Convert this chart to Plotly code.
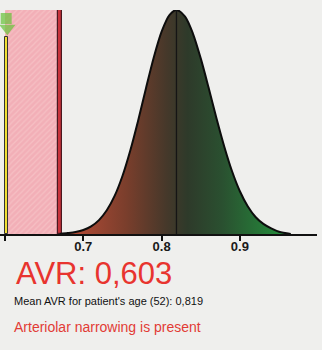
import plotly.graph_objects as go

# ---- data ----
patient_avr = 0.603
patient_age = 52
mean_avr = 0.819
narrowing_threshold = 0.670

curve_x = [0.670, 0.680, 0.690, 0.700, 0.710, 0.720, 0.730, 0.740, 0.750, 0.760, 0.770,
           0.780, 0.790, 0.800, 0.810, 0.819, 0.830, 0.840, 0.850, 0.860, 0.870, 0.880,
           0.890, 0.900, 0.910, 0.920, 0.930, 0.940, 0.950, 0.965]
curve_y = [0.000, 0.004, 0.009, 0.018, 0.034, 0.062, 0.106, 0.170, 0.259, 0.373, 0.506,
           0.650, 0.788, 0.903, 0.977, 1.000, 0.970, 0.895, 0.784, 0.654, 0.518, 0.391,
           0.280, 0.191, 0.124, 0.076, 0.045, 0.025, 0.010, 0.000]

tick_vals = [0.6, 0.7, 0.8, 0.9]
tick_text = ["0.6", "0.7", "0.8", "0.9"]

region_start = 0.600
marker_top = 0.88

fig = go.Figure()

# pink narrowing region
fig.add_trace(go.Bar(
    x=[(region_start + narrowing_threshold) / 2], y=[1.0],
    width=[narrowing_threshold - region_start],
    marker=dict(color="#f2afb7", line=dict(width=0),
                pattern=dict(shape="/", fgcolor="#f8d0d0", size=4, solidity=0.3)),
    hoverinfo="skip", showlegend=False))

# red threshold stripe
fig.add_trace(go.Bar(
    x=[narrowing_threshold], y=[1.0], width=[0.0055],
    marker=dict(color="#c8343c", line=dict(color="#4a1820", width=1.2)),
    hoverinfo="skip", showlegend=False))

# patient yellow bar
fig.add_trace(go.Bar(
    x=[patient_avr - 0.0012], y=[marker_top], width=[0.004],
    marker=dict(color="#f2e034", line=dict(color="#333333", width=1)),
    hoverinfo="skip", showlegend=False))

# distribution curve with gradient fill
fig.add_trace(go.Scatter(
    x=curve_x, y=curve_y, mode="lines",
    line=dict(color="#0d0d0d", width=2, shape="spline", smoothing=0.8),
    fill="tozeroy",
    fillgradient=dict(type="horizontal", start=0.69, stop=0.95,
                      colorscale=[[0.0, "#b04a35"], [0.25, "#7a3e2c"], [0.45, "#45382a"],
                                  [0.55, "#2e3a2a"], [0.72, "#2a5030"], [1.0, "#24883a"]]),
    cliponaxis=False, hoverinfo="skip", showlegend=False))

# mean line
fig.add_trace(go.Scatter(
    x=[mean_avr, mean_avr], y=[0, 1.0], mode="lines",
    line=dict(color="#151515", width=1.3),
    hoverinfo="skip", showlegend=False))

# green arrow marker (body + head)
fig.add_trace(go.Scatter(
    x=[patient_avr - 0.0015, patient_avr], y=[0.962, 0.918], mode="markers",
    marker=dict(symbol=["square", "triangle-down"], size=[11, 14], color="#66c238",
                line=dict(width=0)),
    cliponaxis=False, hoverinfo="skip", showlegend=False))

avr_txt = f"{patient_avr:.3f}".replace(".", ",")
mean_txt = f"{mean_avr:.3f}".replace(".", ",")

fig.add_annotation(x=0.045, y=-0.175, xref="paper", yref="paper", xanchor="left", yanchor="middle",
                   text=f"AVR: {avr_txt}", showarrow=False,
                   font=dict(family="Arial, Liberation Sans", size=31, color="#e8342f"))
fig.add_annotation(x=0.038, y=-0.30, xref="paper", yref="paper", xanchor="left", yanchor="middle",
                   text=f"Mean AVR for patient's age ({patient_age}): {mean_txt}", showarrow=False,
                   font=dict(family="Arial, Liberation Sans", size=11, color="#111111"))
fig.add_annotation(x=0.038, y=-0.415, xref="paper", yref="paper", xanchor="left", yanchor="middle",
                   text="Arteriolar narrowing is present", showarrow=False,
                   font=dict(family="Arial, Liberation Sans", size=14, color="#e23b35"))

fig.update_layout(
    width=322, height=350,
    margin=dict(l=0, r=5, t=10, b=116),
    paper_bgcolor="#efefed", plot_bgcolor="#efefed",
    barmode="overlay", bargap=0,
    xaxis=dict(range=[0.5936, 0.9985], showgrid=False, zeroline=False,
               showline=True, linecolor="#111111", linewidth=2,
               ticks="outside", ticklen=5, tickcolor="#111111", tickwidth=1.5,
               ticklabelstandoff=-6,
               tickvals=tick_vals, ticktext=tick_text,
               tickfont=dict(family="Arial, Liberation Sans", size=13,
                             color="#1a1a1a", weight="bold")),
    yaxis=dict(range=[0, 1.0], visible=False, showgrid=False, zeroline=False),
)

fig.write_html("out.html")
